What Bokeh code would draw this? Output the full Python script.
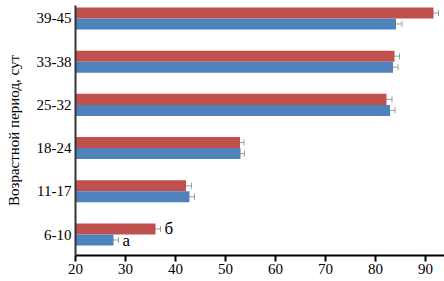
from bokeh.plotting import figure
from bokeh.models import ColumnDataSource, Whisker, FixedTicker, Range1d, TeeHead
from bokeh.core.properties import value
from bokeh.embed import file_html
from bokeh.resources import INLINE

periods = ["6-10", "11-17", "18-24", "25-32", "33-38", "39-45"]
series_b = [36.0, 42.1, 52.9, 82.2, 83.8, 91.6]   # red
err_b = [1.0, 1.1, 0.8, 1.1, 1.0, 1.0]
series_a = [27.6, 42.8, 53.0, 82.9, 83.5, 84.1]   # blue
err_a = [1.0, 1.0, 0.8, 1.0, 1.0, 1.2]
letters_b = ["б", "", "", "", "", ""]
letters_a = ["а", "", "", "", "", ""]
x_ticks = [20, 30, 40, 50, 60, 70, 80, 90]

RED = "#C0504D"
BLUE = "#4F81BD"
FONT = "Liberation Serif"
BAR_H = 0.255
OFF = BAR_H / 2

pos = list(range(len(periods)))

src_b = ColumnDataSource(dict(
    y=[p + OFF for p in pos], v=series_b,
    upper=[v + e for v, e in zip(series_b, err_b)],
    lower=[v - e for v, e in zip(series_b, err_b)],
    tx=[v + e + 0.8 for v, e in zip(series_b, err_b)],
    lab=letters_b))
src_a = ColumnDataSource(dict(
    y=[p - OFF for p in pos], v=series_a,
    upper=[v + e for v, e in zip(series_a, err_a)],
    lower=[v - e for v, e in zip(series_a, err_a)],
    tx=[v + e + 0.8 for v, e in zip(series_a, err_a)],
    lab=letters_a))

p = figure(width=444, height=281, output_backend="svg", toolbar_location=None,
           x_range=Range1d(20, 93.8), y_range=Range1d(-0.486, 5.30),
           min_border_left=75, min_border_right=0, min_border_top=5, min_border_bottom=26)

p.hbar(y="y", left=0, right="v", height=BAR_H, source=src_b, fill_color=RED, line_color=None)
p.hbar(y="y", left=0, right="v", height=BAR_H, source=src_a, fill_color=BLUE, line_color=None)

for src in (src_b, src_a):
    w = Whisker(source=src, base="y", upper="upper", lower="lower", dimension="width",
                line_color="#9a9a9a", line_width=1,
                upper_head=TeeHead(size=6, line_color="#9a9a9a", line_width=1),
                lower_head=TeeHead(size=6, line_color="#9a9a9a", line_width=1))
    p.add_layout(w)
    p.text(x="tx", y="y", text="lab", source=src, text_font=value(FONT),
           text_font_size="17px", text_baseline="middle", text_align="left", text_color="black")

p.xgrid.visible = False
p.ygrid.visible = False
p.outline_line_color = None
p.background_fill_color = "white"

xa = p.xaxis[0]
xa.ticker = FixedTicker(ticks=x_ticks)
xa.axis_line_color = "black"
xa.axis_line_width = 2
xa.major_tick_line_color = "black"
xa.major_tick_line_width = 2
xa.major_tick_in = 0
xa.major_tick_out = 6
xa.minor_tick_line_color = None
xa.major_label_text_font = FONT
xa.major_label_text_font_size = "15px"
xa.major_label_text_color = "black"
xa.major_label_standoff = 2

ya = p.yaxis[0]
ya.ticker = FixedTicker(ticks=pos)
ya.major_label_overrides = {i: periods[i] for i in pos}
ya.axis_line_color = "#333333"
ya.axis_line_width = 2
ya.major_tick_line_color = None
ya.minor_tick_line_color = None
ya.major_tick_in = 0
ya.major_tick_out = 0
ya.major_label_standoff = 4
ya.major_label_text_font = FONT
ya.major_label_text_font_size = "15px"
ya.major_label_text_color = "black"
ya.axis_label = "Возрастной период, сут"
ya.axis_label_text_font = FONT
ya.axis_label_text_font_size = "15px"
ya.axis_label_text_font_style = "normal"
ya.axis_label_text_color = "black"
ya.axis_label_standoff = 12

open("out.html", "w").write(file_html(p, INLINE))
